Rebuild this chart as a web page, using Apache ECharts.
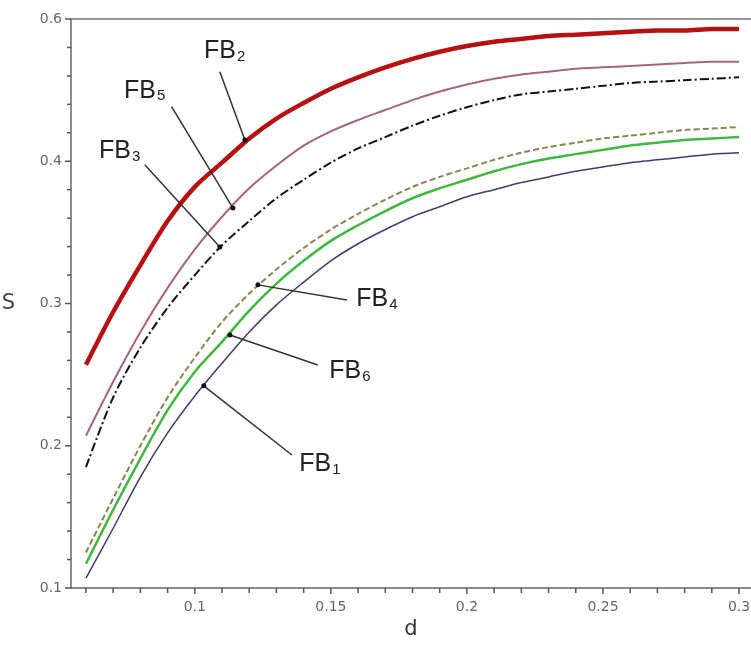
<!DOCTYPE html>
<html><head><meta charset="utf-8">
<script src="https://cdn.jsdelivr.net/npm/echarts@6/dist/echarts.min.js"></script>
<style>html,body{margin:0;padding:0;background:#fff}#c{width:751px;height:650px}</style>
</head><body><div id="c"></div>
<script>
const dValues = [0.06,0.07,0.08,0.09,0.10,0.11,0.12,0.13,0.14,0.15,0.16,0.17,0.18,0.19,0.20,0.21,0.22,0.23,0.24,0.25,0.26,0.27,0.28,0.29,0.30];
const FB2 = [0.257,0.294,0.327,0.358,0.382,0.399,0.416,0.430,0.441,0.451,0.459,0.466,0.472,0.477,0.481,0.484,0.486,0.488,0.489,0.490,0.491,0.492,0.492,0.493,0.493];
const FB5 = [0.207,0.245,0.280,0.311,0.338,0.361,0.381,0.397,0.411,0.421,0.429,0.436,0.443,0.449,0.454,0.458,0.461,0.463,0.465,0.466,0.467,0.468,0.469,0.470,0.470];
const FB3 = [0.185,0.234,0.269,0.297,0.320,0.341,0.358,0.374,0.387,0.399,0.409,0.417,0.425,0.432,0.438,0.443,0.447,0.449,0.451,0.453,0.455,0.456,0.457,0.458,0.459];
const FB4 = [0.125,0.163,0.200,0.234,0.262,0.287,0.307,0.324,0.339,0.352,0.363,0.373,0.382,0.389,0.395,0.401,0.406,0.410,0.413,0.416,0.418,0.420,0.422,0.423,0.424];
const FB6 = [0.117,0.155,0.191,0.225,0.252,0.273,0.295,0.314,0.330,0.344,0.355,0.365,0.374,0.381,0.387,0.393,0.398,0.402,0.405,0.408,0.411,0.413,0.415,0.416,0.417];
const FB1 = [0.107,0.142,0.178,0.209,0.235,0.258,0.280,0.299,0.315,0.330,0.342,0.352,0.361,0.368,0.375,0.380,0.385,0.389,0.393,0.396,0.399,0.401,0.403,0.405,0.406];

const xLabelValues = [0.1,0.15,0.2,0.25,0.3];
const xLabelTexts = ['0.1','0.15','0.2','0.25','0.3'];
const xTickValues = [0.06,0.07,0.08,0.09,0.10,0.11,0.12,0.13,0.14,0.15,0.16,0.17,0.18,0.19,0.20,0.21,0.22,0.23,0.24,0.25,0.26,0.27,0.28,0.29,0.30];
const yLabelValues = [0.1,0.2,0.3,0.4,0.5];
const yLabelTexts = ['0.1','0.2','0.3','0.4','0.6'];
const yTickValues = [0.1,0.12,0.14,0.16,0.18,0.2,0.22,0.24,0.26,0.28,0.3,0.32,0.34,0.36,0.38,0.4,0.42,0.44,0.46,0.48,0.5];

// annotations: name, subscript, label centre [d,S], leader start [d,S], leader end on curve [d,S]
const annotations = [
  {t:'FB', s:'2', at:[0.1110,0.4783], from:[0.1092,0.4629], to:[0.1184,0.4150]},
  {t:'FB', s:'5', at:[0.0816,0.4502], from:[0.0915,0.4383], to:[0.1140,0.3672]},
  {t:'FB', s:'3', at:[0.0724,0.4080], from:[0.0816,0.3975], to:[0.1092,0.3398]},
  {t:'FB', s:'4', at:[0.1669,0.3039], from:[0.1559,0.3025], to:[0.1232,0.3131]},
  {t:'FB', s:'6', at:[0.1570,0.2533], from:[0.1452,0.2568], to:[0.1129,0.2779]},
  {t:'FB', s:'1', at:[0.1460,0.1879], from:[0.1357,0.1935], to:[0.1033,0.2421]}
];

function pairs(ys){ return dValues.map((d,i)=>[d,ys[i]]); }
function line(name, ys, color, width, type, z){
  return {name, type:'line', data:pairs(ys), showSymbol:false, smooth:0.3, z:z||2,
    lineStyle:{color, width, type:type||'solid'}, emphasis:{disabled:true}};
}
const chart = echarts.init(document.getElementById('c'), null, {renderer:'canvas'});
const axisFont = {color:'#666', fontSize:14, fontFamily:'DejaVu Sans'};
chart.setOption({
  animation:false,
  backgroundColor:'#fff',
  grid:{left:71, right:0, top:19, bottom:62, containLabel:false, outerBoundsMode:'none'},
  xAxis:[{
    type:'value', min:0.0545, max:0.3044,
    name:'d', nameLocation:'middle', nameGap:31,
    nameTextStyle:{color:'#333', fontSize:21, fontFamily:'DejaVu Sans'},
    axisLine:{lineStyle:{color:'#666', width:1.5}},
    axisTick:{show:false},
    axisLabel:{...axisFont, margin:12, customValues:xLabelValues,
      formatter:v=>{const i=xLabelValues.findIndex(x=>Math.abs(x-v)<1e-9);return i>=0?xLabelTexts[i]:'';}},
    splitLine:{show:false}
  },{
    type:'value', position:'top', min:0.0545, max:0.3044,
    axisLine:{show:true, lineStyle:{color:'#777', width:1.5}},
    axisTick:{show:false}, axisLabel:{show:false}, splitLine:{show:false}
  }],
  yAxis:{
    type:'value', min:0.1, max:0.5,
    name:'S', nameLocation:'middle', nameGap:56, nameRotate:0,
    nameTextStyle:{color:'#444', fontSize:21, fontFamily:'DejaVu Sans'},
    axisLine:{lineStyle:{color:'#666', width:1.5}},
    axisTick:{show:false},
    axisLabel:{...axisFont, margin:9, customValues:yLabelValues,
      formatter:v=>{const i=yLabelValues.findIndex(x=>Math.abs(x-v)<1e-9);return i>=0?yLabelTexts[i]:'';}},
    splitLine:{show:false}
  },
  series:[
    line('FB1', FB1, '#3c3c78', 1.5),
    line('FB6', FB6, '#3fb83f', 2.5),
    line('FB4', FB4, '#8a8650', 2, [6,3]),
    line('FB3', FB3, '#111111', 2, [9,3,2,3]),
    line('FB5', FB5, '#a86575', 2),
    line('FB2', FB2, '#b81010', 4.5, 'solid', 3)
  ]
});

const toPx = v => chart.convertToPixel({xAxisIndex:0,yAxisIndex:0}, v);
const gfx = [];
// axis ticks placed through the axis scales
xTickValues.forEach(d=>{
  const p = toPx([d,0.1]);
  const major = xLabelValues.some(v=>Math.abs(v-d)<1e-9);
  gfx.push({type:'line', shape:{x1:p[0],y1:p[1],x2:p[0],y2:p[1]+(major?6:5)}, style:{stroke:'#555', lineWidth:1.5}, z:50});
});
yTickValues.forEach(s=>{
  const p = toPx([0.0545,s]);
  const major = yLabelValues.some(v=>Math.abs(v-s)<1e-9);
  gfx.push({type:'line', shape:{x1:p[0]-(major?6:4),y1:p[1],x2:p[0],y2:p[1]}, style:{stroke:'#555', lineWidth:1.5}, z:50});
});
annotations.forEach(a=>{
  const p = toPx(a.at), f = toPx(a.from), t = toPx(a.to);
  gfx.push({type:'line', shape:{x1:f[0],y1:f[1],x2:t[0],y2:t[1]}, style:{stroke:'#333', lineWidth:1.5}, z:10});
  gfx.push({type:'circle', shape:{cx:t[0],cy:t[1],r:2.5}, style:{fill:'#111'}, z:11});
  gfx.push({type:'text', x:p[0], y:p[1], z:12, style:{
    text:'{b|'+a.t+'}{s|'+a.s+'}', align:'center', verticalAlign:'middle',
    rich:{
      b:{fontSize:25, fontFamily:'Liberation Sans', fill:'#222', verticalAlign:'bottom', lineHeight:28},
      s:{fontSize:15, fontFamily:'Liberation Sans', fill:'#222', verticalAlign:'bottom', lineHeight:28, padding:[12,0,0,1]}
    }}});
});
chart.setOption({graphic:{elements:gfx}});
</script></body></html>
